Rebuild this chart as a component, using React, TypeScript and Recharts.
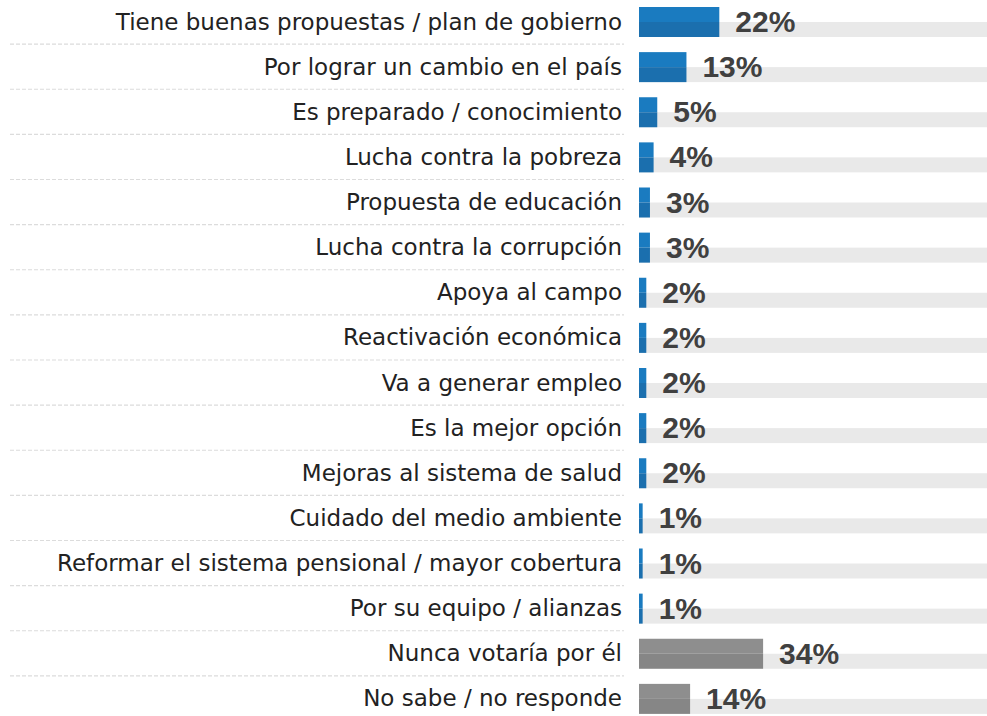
import React from 'react';
import { BarChart, Bar, XAxis, YAxis, LabelList } from 'recharts';

// Motivos de voto (porcentaje de respuestas)
const categorias = [
  'Tiene buenas propuestas / plan de gobierno',
  'Por lograr un cambio en el país',
  'Es preparado / conocimiento',
  'Lucha contra la pobreza',
  'Propuesta de educación',
  'Lucha contra la corrupción',
  'Apoya al campo',
  'Reactivación económica',
  'Va a generar empleo',
  'Es la mejor opción',
  'Mejoras al sistema de salud',
  'Cuidado del medio ambiente',
  'Reformar el sistema pensional / mayor cobertura',
  'Por su equipo / alianzas',
  'Nunca votaría por él',
  'No sabe / no responde',
];
const valores = [22, 13, 5, 4, 3, 3, 2, 2, 2, 2, 2, 1, 1, 1, 34, 14];
// respuestas que no son motivos (van en gris)
const otrasRespuestas = ['Nunca votaría por él', 'No sabe / no responde'];

const datos = categorias.map((nombre, i) => ({ nombre, valor: valores[i] }));

const ANCHO = 1010;
const ALTO = 722;
const FILA = ALTO / categorias.length;

const BarraDoble = (props: any) => {
  const { x, y, width, height, payload } = props;
  const gris = otrasRespuestas.includes(payload.nombre);
  const mitad = height / 2;
  return (
    <g>
      <rect x={x} y={y} width={width} height={mitad} fill={gris ? '#8e8e8e' : '#1a7bc0'} />
      <rect x={x} y={y + mitad} width={width} height={height - mitad} fill={gris ? '#868686' : '#1b6fae'} />
    </g>
  );
};

const Pista = (props: any) => {
  const { x, y, width, height } = props;
  return <rect x={x} y={y + height / 2} width={width} height={height / 2} fill="#e9e9e9" />;
};

const Etiqueta = (props: any) => {
  const { y, payload, index } = props;
  const ultima = index === categorias.length - 1;
  return (
    <g>
      <text
        x={622}
        y={y}
        dy={8}
        textAnchor="end"
        fill="#222"
        fontSize={23}
        fontFamily="'DejaVu Sans', sans-serif"
      >
        {payload.value}
      </text>
      {!ultima && (
        <line x1={10} x2={624} y1={y + FILA / 2} y2={y + FILA / 2} stroke="#dcdcdc" strokeWidth={1.2} strokeDasharray="4 2" />
      )}
    </g>
  );
};

const Valor = (props: any) => {
  const { x, y, width, height, value } = props;
  return (
    <text
      x={x + width + 16}
      y={y + height - 5}
      fill="#404040"
      fontSize={30}
      fontWeight="bold"
      fontFamily="'Liberation Sans', Arial, sans-serif"
    >
      {value}%
    </text>
  );
};

export default function App() {
  return (
    <div style={{ position: 'absolute', left: 0, top: -1, width: 987, height: 717, overflow: 'hidden', background: '#fff' }}>
      <BarChart
        width={ANCHO}
        height={ALTO}
        data={datos}
        layout="vertical"
        margin={{ top: 0, right: 6, bottom: 0, left: 0 }}
      >
        <XAxis type="number" domain={[0, 100]} hide />
        <YAxis
          type="category"
          dataKey="nombre"
          width={639}
          axisLine={false}
          tickLine={false}
          interval={0}
          tick={<Etiqueta />}
        />
        <Bar
          dataKey="valor"
          barSize={30}
          isAnimationActive={false}
          shape={<BarraDoble />}
          background={<Pista />}
        >
          <LabelList dataKey="valor" content={<Valor />} />
        </Bar>
      </BarChart>
    </div>
  );
}
